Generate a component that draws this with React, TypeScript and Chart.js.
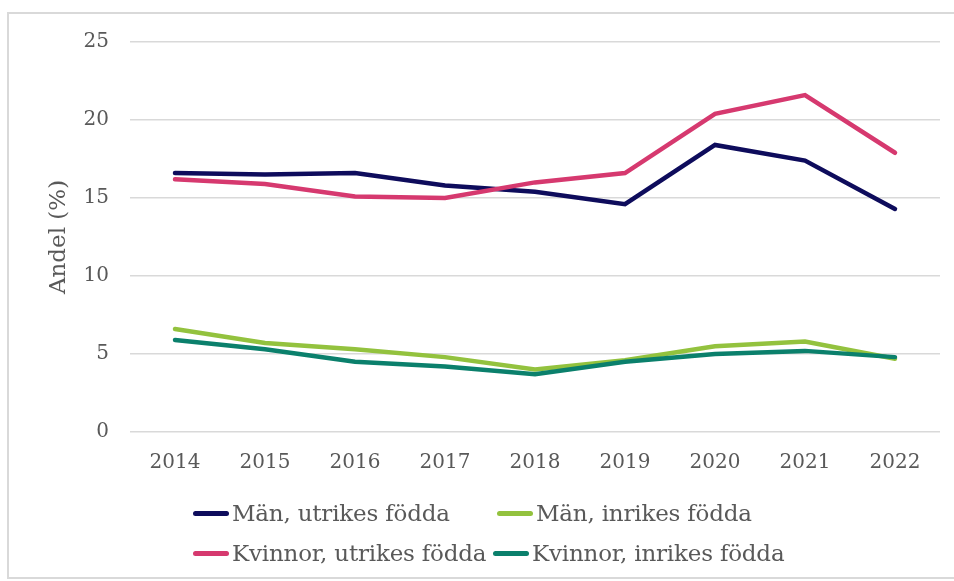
import React, { useEffect, useRef } from "react";
import { Chart, registerables } from "chart.js";

Chart.register(...registerables);

const categories = ["2014", "2015", "2016", "2017", "2018", "2019", "2020", "2021", "2022"];
const manUtrikes = [16.6, 16.5, 16.6, 15.8, 15.4, 14.6, 18.4, 17.4, 14.3];
const manInrikes = [6.6, 5.7, 5.3, 4.8, 4.0, 4.6, 5.5, 5.8, 4.7];
const kvinnorUtrikes = [16.2, 15.9, 15.1, 15.0, 16.0, 16.6, 20.4, 21.6, 17.9];
const kvinnorInrikes = [5.9, 5.3, 4.5, 4.2, 3.7, 4.5, 5.0, 5.2, 4.8];
const yTicks = [0, 5, 10, 15, 20, 25];

const seriesNames = [
  "Män, utrikes födda",
  "Män, inrikes födda",
  "Kvinnor, utrikes födda",
  "Kvinnor, inrikes födda",
];
const seriesColors = ["#0e0c5c", "#93c23e", "#d6396f", "#0b806c"];
const seriesData = [manUtrikes, manInrikes, kvinnorUtrikes, kvinnorInrikes];
const seriesOrder = [3, 2, 1, 0];

const FONT = "'DejaVu Serif', 'Liberation Serif', serif";
const TEXT = "#595959";

export default function App() {
  const ref = useRef<HTMLCanvasElement | null>(null);

  useEffect(() => {
    document.body.style.margin = "0";
    if (!ref.current) return;
    const chart = new Chart(ref.current, {
      type: "line",
      data: {
        labels: categories,
        datasets: seriesData.map((d, i) => ({
          label: seriesNames[i],
          data: d,
          borderColor: seriesColors[i],
          backgroundColor: seriesColors[i],
          borderWidth: 4.5,
          pointRadius: 0,
          pointHoverRadius: 0,
          tension: 0,
          fill: false,
          borderCapStyle: "round" as const,
          borderJoinStyle: "miter" as const,
          order: seriesOrder[i],
        })),
      },
      options: {
        animation: false,
        responsive: false,
        maintainAspectRatio: false,
        layout: { padding: { left: 0, right: 14, top: 42, bottom: 0 } },
        plugins: {
          legend: { display: false },
          tooltip: { enabled: false },
        },
        scales: {
          x: {
            offset: true,
            grid: { display: false, drawTicks: false },
            border: { display: false },
            ticks: {
              color: TEXT,
              font: { family: FONT, size: 20 },
              padding: 19,
              maxRotation: 0,
            },
            afterFit: (scale: any) => {
              scale.height = 149;
            },
          },
          y: {
            min: 0,
            max: 25,
            afterBuildTicks: (scale: any) => {
              scale.ticks = yTicks.map((v) => ({ value: v }));
            },
            grid: { color: "#d9d9d9", lineWidth: 1.5, drawTicks: false },
            border: { display: false },
            ticks: {
              color: TEXT,
              font: { family: FONT, size: 20 },
              padding: 21,
            },
            title: {
              display: true,
              text: "Andel (%)",
              color: TEXT,
              font: { family: FONT, size: 23, weight: "normal" },
              padding: { top: 45, bottom: 0 },
            },
            afterFit: (scale: any) => {
              scale.width = 130;
            },
          },
        },
      },
    });
    return () => chart.destroy();
  }, []);

  const positions = [
    [193, 513],
    [497, 513],
    [193, 553],
    [493, 553],
  ];

  return (
    <div style={{ position: "relative", width: 954, height: 581, overflow: "hidden", background: "#fff" }}>
      <div
        style={{
          position: "absolute",
          left: 7,
          top: 12,
          width: 980,
          height: 567,
          border: "2px solid #d9d9d9",
          boxSizing: "border-box",
        }}
      />
      <canvas ref={ref} width={954} height={581} style={{ position: "absolute", left: 0, top: 0 }} />
      {seriesNames.map((name, i) => (
        <div
          key={name}
          style={{
            position: "absolute",
            left: positions[i][0],
            top: positions[i][1] - 15,
            height: 30,
            display: "flex",
            alignItems: "center",
            fontFamily: FONT,
            fontSize: 23,
            letterSpacing: -0.2,
            color: TEXT,
            whiteSpace: "nowrap",
          }}
        >
          <span
            style={{
              display: "inline-block",
              width: 36,
              height: 5,
              borderRadius: 3,
              background: seriesColors[i],
              marginRight: 3,
            }}
          />
          {name}
        </div>
      ))}
    </div>
  );
}
